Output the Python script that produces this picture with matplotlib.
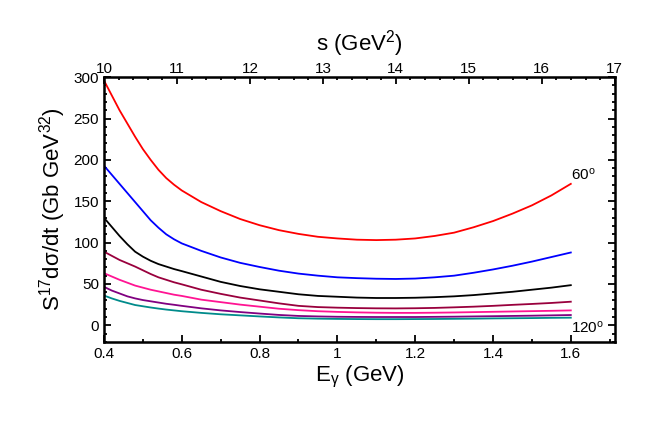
import matplotlib
matplotlib.use('Agg')
import matplotlib.pyplot as plt
from matplotlib.ticker import MultipleLocator

plt.rcParams['font.family'] = ['Liberation Sans', 'DejaVu Sans']
plt.rcParams['mathtext.fontset'] = 'custom'
plt.rcParams['mathtext.rm'] = 'Liberation Sans'
plt.rcParams['mathtext.it'] = 'Liberation Sans:italic'
plt.rcParams['mathtext.default'] = 'rm'

# photon energy grid (GeV)
e_gamma = [0.40, 0.42, 0.44, 0.46, 0.48, 0.50, 0.52, 0.54, 0.56, 0.58, 0.60,
           0.65, 0.70, 0.75, 0.80, 0.85, 0.90, 0.95, 1.00, 1.05, 1.10, 1.15,
           1.20, 1.25, 1.30, 1.35, 1.40, 1.45, 1.50, 1.55, 1.60]

# scaled cross sections, one per angle (60 deg on top ... 120 deg at bottom)
red_60 = [296, 278, 260, 244, 228, 213, 200, 188, 178, 170, 163,
          149, 138, 128.5, 121, 115, 110.5, 107, 105, 103.5, 103, 103.5,
          105, 108, 112, 118.5, 126, 135, 145, 157, 171]
blue = [193, 182, 171, 160, 149, 138, 127, 118, 110, 104, 99,
        90, 82, 75.5, 70.5, 66, 62.5, 60, 58, 57, 56.3, 56,
        56.5, 58, 60, 63.5, 67.5, 72, 77, 82.5, 88]
black = [130, 119, 108, 98, 89, 83, 78, 74, 71, 68, 65.5,
         59, 52.5, 47.5, 43.5, 40.5, 37.5, 35.5, 34.5, 33.5, 33, 33,
         33.3, 34, 35, 36.5, 38.5, 40.5, 43, 45.5, 48.5]
maroon = [89, 84, 79, 75, 71, 66.5, 62, 58, 55, 52, 49.5,
          43, 38, 33.5, 30, 26.5, 23.5, 22, 21.3, 20.8, 20.5, 20.4,
          20.6, 21, 21.7, 22.5, 23.5, 24.7, 25.8, 27, 28.5]
pink = [63, 59, 55, 51.5, 48, 45.5, 43, 41, 39, 37, 35.5,
        31, 28, 25, 22.5, 20, 18.3, 17, 16.2, 15.6, 15.2, 15,
        15, 15.2, 15.5, 15.9, 16.3, 16.7, 17.1, 17.5, 18]
purple = [46.5, 42, 38.5, 35, 32.5, 30.5, 29, 27.5, 26, 24.8, 23.5,
          20.5, 18, 16, 14.2, 12.5, 11.3, 10.7, 10.3, 10.1, 10, 10,
          10, 10.2, 10.4, 10.7, 11, 11.3, 11.6, 12, 12.4]
teal_120 = [36, 32.5, 29.5, 27, 24.5, 23, 21.5, 20.2, 19, 18, 17,
            15, 13.3, 12, 10.7, 9.5, 8.5, 8, 7.7, 7.5, 7.4, 7.4,
            7.5, 7.6, 7.8, 8, 8.3, 8.5, 8.7, 9, 9.2]

series = [red_60, blue, black, maroon, pink, purple, teal_120]
colors = ['#ff0000', '#0000ff', '#000000', '#99003d', '#ff1493', '#800080', '#008b8b']

fig = plt.figure(figsize=(6.54, 4.36), dpi=100)
ax = fig.add_axes([0.159, 0.216, 0.781, 0.607])

for ys, c in zip(series, colors):
    ax.plot(e_gamma, ys, color=c, lw=1.3)

ax.set_xlim(0.4, 1.713)
ax.set_ylim(-20, 300)
ax.xaxis.set_minor_locator(MultipleLocator(0.1))
ax.yaxis.set_major_locator(MultipleLocator(50))
ax.yaxis.set_minor_locator(MultipleLocator(10))
ax.set_xticks([0.4, 0.6, 0.8, 1.0, 1.2, 1.4, 1.6])
ax.set_xticklabels(['0.4', '0.6', '0.8', '1', '1.2', '1.4', '1.6'])
ax.tick_params(which='both', direction='in', right=True, labelsize=11, width=1.3)
ax.tick_params(which='major', length=5)
ax.tick_params(which='minor', length=2.5)
for sp in ax.spines.values():
    sp.set_linewidth(1.8)

ax.set_xlabel(r'E$_\gamma$ (GeV)', fontsize=16, labelpad=2)
ax.set_ylabel(r'S$^{17}$d$\sigma$/dt (Gb GeV$^{32}$)', fontsize=16, labelpad=4)

ax.text(1.6, 172, r'60$^{\rm o}$', fontsize=11, ha='left', va='bottom')
ax.text(1.6, 7, r'120$^{\rm o}$', fontsize=11, ha='left', va='top')

top = ax.twiny()
top.set_xlim(10, 17)
top.xaxis.set_major_locator(MultipleLocator(1))
top.xaxis.set_minor_locator(MultipleLocator(0.2))
top.tick_params(which='both', direction='in', labelsize=11, width=1.3, pad=1)
top.tick_params(which='major', length=5)
top.tick_params(which='minor', length=2.5)
top.set_xlabel(r's (GeV$^2$)', fontsize=16, labelpad=8)

fig.savefig('out.png', dpi=100)
